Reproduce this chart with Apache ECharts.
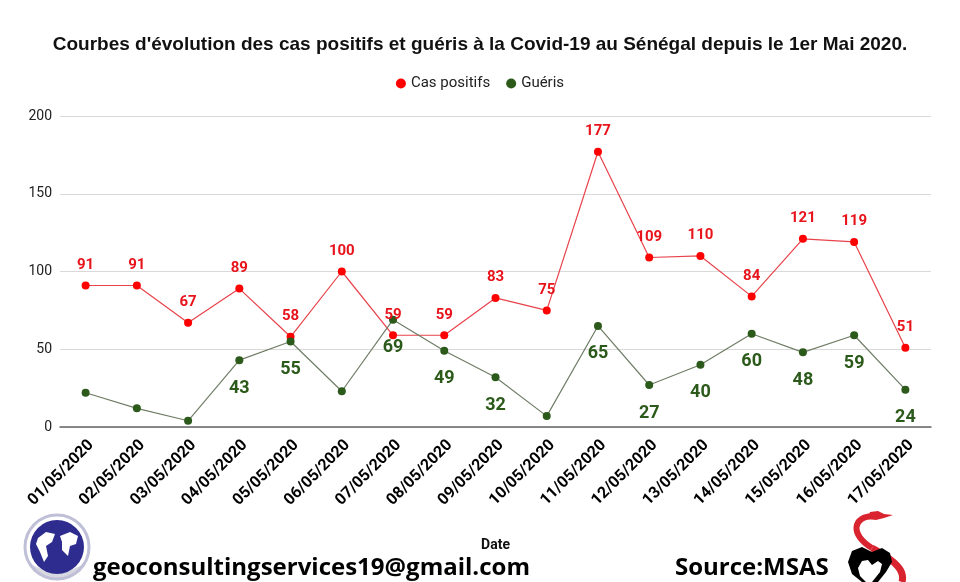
<!DOCTYPE html>
<html><head><meta charset="utf-8">
<script src="https://cdn.jsdelivr.net/npm/echarts@6/dist/echarts.min.js"></script>
<style>html,body{margin:0;padding:0;background:#fff}#c{width:960px;height:582px}</style>
</head><body><div id="c"></div>
<script>
const categories = ['01/05/2020','02/05/2020','03/05/2020','04/05/2020','05/05/2020','06/05/2020','07/05/2020','08/05/2020','09/05/2020','10/05/2020','11/05/2020','12/05/2020','13/05/2020','14/05/2020','15/05/2020','16/05/2020','17/05/2020'];
const casPositifs = [91,91,67,89,58,100,59,59,83,75,177,109,110,84,121,119,51];
const gueris = [22,12,4,43,55,23,69,49,32,7,65,27,40,60,48,59,24];
const guerisLabelShown = [false,false,false,true,true,false,true,true,true,false,true,true,true,true,true,true,true];
const yTicks = [0,50,100,150,200];

const chart = echarts.init(document.getElementById('c'));
chart.setOption({
  animation:false,
  title:{text:"Courbes d'évolution des cas positifs et guéris à la Covid-19 au Sénégal depuis le 1er Mai 2020.",left:'center',top:30,
    textStyle:{fontFamily:'Liberation Sans',fontWeight:'bold',fontSize:19,color:'#111'}},
  legend:{top:71,left:'center',itemWidth:10,itemHeight:10,itemGap:16,icon:'circle',
    textStyle:{fontFamily:'Roboto',fontSize:15,color:'#222'},
    data:['Cas positifs','Guéris']},
  grid:{left:60,right:29,top:116,bottom:155,containLabel:false},
  xAxis:{type:'category',data:categories,boundaryGap:true,
    name:'Date',nameLocation:'middle',nameGap:111,
    nameTextStyle:{fontFamily:'Roboto',fontWeight:'bold',fontSize:14,color:'#111'},
    axisLine:{lineStyle:{color:'#666',width:1.5}},axisTick:{show:false},
    axisLabel:{rotate:45,interval:0,verticalAlign:'top',fontFamily:'Roboto',fontWeight:'bold',fontSize:16,color:'#000',margin:10}},
  yAxis:{type:'value',min:yTicks[0],max:yTicks[yTicks.length-1],interval:50,
    axisLine:{show:false},axisTick:{show:false},
    axisLabel:{fontFamily:'Roboto',fontSize:14,color:'#222',margin:8}, 
    splitLine:{lineStyle:{color:'#d9d9d9'}}},
  series:[
    {name:'Cas positifs',type:'line',data:casPositifs,symbol:'circle',symbolSize:8,
      itemStyle:{color:'#ff0000'},lineStyle:{color:'#e8424a',width:1.2},
      label:{show:true,position:'top',distance:9,fontFamily:'Roboto',fontWeight:'bold',fontSize:15,color:'#e8141c'}},
    {name:'Guéris',type:'line',
      data:gueris.map((v,i)=>({value:v,label:{show:guerisLabelShown[i]}})),
      symbol:'circle',symbolSize:8,
      itemStyle:{color:'#2b5a1a'},lineStyle:{color:'#6f7d66',width:1.2},
      label:{position:'bottom',distance:15,fontFamily:'Roboto',fontWeight:'bold',fontSize:18,color:'#2b5a1a'}}
  ],
  graphic:[
    {type:'text',x:93,y:556,style:{text:'geoconsultingservices19@gmail.com',font:'bold 24px "Open Sans"',fill:'#000'}},
    {type:'text',x:675,y:556,style:{text:'Source:MSAS',font:'bold 24px "Open Sans"',fill:'#000'}},
    {type:'polygon',shape:{points:[[28,560],[34,572],[50,578],[66,578],[80,572],[86,560],[80,566],[66,572],[50,572],[34,566]]},style:{fill:'#d8d8e0'}},
    {type:'circle',shape:{cx:57,cy:547,r:27},style:{fill:'#2f2c8f'}},
    {type:'circle',shape:{cx:57,cy:547,r:32},style:{fill:'none',stroke:'#bfbfd8',lineWidth:3}},
    {type:'polygon',shape:{points:[[38,538],[46,532],[55,534],[52,542],[46,546],[48,556],[44,562],[40,552],[36,544]]},style:{fill:'#fff'}},
    {type:'polygon',shape:{points:[[60,536],[70,532],[78,536],[76,544],[70,546],[68,556],[62,550],[62,542]]},style:{fill:'#fff'}},
    {type:'bezierCurve',shape:{x1:874,y1:516,cpx1:852,cpy1:516,cpx2:850,cpy2:535,x2:872,y2:548},style:{fill:'none',stroke:'#d9232e',lineWidth:6}},
    {type:'bezierCurve',shape:{x1:872,y1:548,cpx1:898,cpy1:562,cpx2:905,cpy2:572,x2:902,y2:582},style:{fill:'none',stroke:'#d9232e',lineWidth:7}},
    {type:'polygon',shape:{points:[[870,512],[878,511],[884,514],[893,515],[884,518],[876,520],[868,519]]},style:{fill:'#d9232e'}},
    {type:'polygon',shape:{points:[[848,562],[852,551],[862,547],[872,552],[882,548],[890,553],[892,562],[886,572],[878,582],[862,582],[852,574]]},style:{fill:'#000'}},
    {type:'polygon',shape:{points:[[858,568],[862,561],[868,560],[872,565],[878,561],[882,564],[880,572],[872,582],[866,582],[860,576]]},style:{fill:'#fff'}}
  ]
});
</script></body></html>
